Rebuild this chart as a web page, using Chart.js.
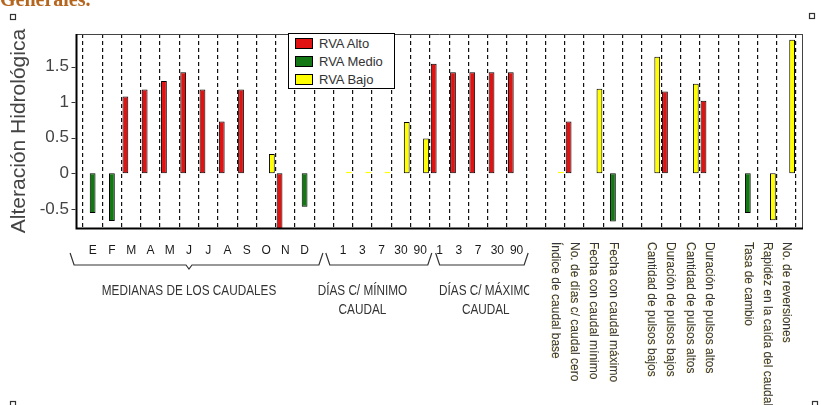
<!DOCTYPE html>
<html>
<head>
<meta charset="utf-8">
<script src="https://cdn.jsdelivr.net/npm/chart.js"></script>
<style>
    html, body { margin: 0; padding: 0; background: #fff; }
    #wrap { position: relative; width: 821px; height: 405px; overflow: hidden; }
    #leyenda {
        position: absolute; left: 288px; top: 33px; width: 105px; height: 54px;
        border: 1px solid #000; background: #fff;
        font-family: 'Liberation Sans', Arial, sans-serif; font-size: 13px; color: #333;
    }
    #leyenda .item { position: absolute; left: 6px; height: 12px; line-height: 12px; white-space: nowrap; }
    #leyenda .sw { display: inline-block; width: 18px; height: 11px; border: 1px solid #000; box-sizing: border-box; vertical-align: top; margin-right: 6px; }
</style>
</head>
<body>
<div id="wrap">
    <canvas id="grafico" width="821" height="405"></canvas>
    <div id="leyenda"></div>
</div>
<script>
// categorías del eje X ('' = separador entre grupos)
const meses = ['E', 'F', 'M', 'A', 'M', 'J', 'J', 'A', 'S', 'O', 'N', 'D'];
const diasMin = ['1', '3', '7', '30', '90'];
const diasMax = ['1', '3', '7', '30', '90'];
const otros = [
    'Índice de caudal base', 'No. de días c/ caudal cero', 'Fecha con caudal mínimo',
    'Fecha con caudal máximo', '', 'Cantidad de pulsos bajos', 'Duración de pulsos bajos',
    'Cantidad de pulsos altos', 'Duración de pulsos altos', '', 'Tasa de cambio',
    'Rapidéz en la caída del caudal', 'No. de reversiones'
];
const categorias = [...meses, '', ...diasMin, ...diasMax, '', ...otros];

// series
const series = ['RVA Alto', 'RVA Medio', 'RVA Bajo'];
const n = null;
const rvaAlto = [n, n, 1.08, 1.18, 1.30, 1.42, 1.18, 0.73, 1.18, n, -0.80, n,
    n, n, n, n, n, n, 1.54, 1.42, 1.42, 1.42, 1.42,
    n, n, 0.73, n, n, n, n, 1.15, n, 1.02, n, n, n, n];
const rvaMedio = [-0.56, -0.67, n, n, n, n, n, n, n, n, n, -0.47,
    n, n, n, n, n, n, n, n, n, n, n,
    n, n, n, n, -0.68, n, n, n, n, n, n, -0.56, n, n];
const rvaBajo = [n, n, n, n, n, n, n, n, n, 0.27, n, n,
    n, 0.02, 0.02, 0.02, 0.72, 0.49, n, n, n, n, n,
    n, 0.02, n, 1.19, n, n, 1.64, n, 1.26, n, n, n, -0.66, 1.88];

// eje Y
const yTicks = [-0.5, 0, 0.5, 1, 1.5];

// llaves y textos de grupo (en unidades de categoría)
const grupos = [
    { texto: ['MEDIANAS DE LOS CAUDALES'], desde: -1.17, hasta: 11.95, centro: 5.0, pico: true },
    { texto: ['DÍAS C/ MÍNIMO', 'CAUDAL'], desde: 12.1, hasta: 17.6, centro: 14.0, pico: false },
    { texto: ['DÍAS C/ MÁXIMO', 'CAUDAL'], desde: 17.8, hasta: 22.6, centro: 20.4, pico: false }
];

const colores = ['#e01212', '#137813', '#ffff00'];
const valores = [rvaAlto, rvaMedio, rvaBajo];
const fuente = "'Liberation Sans', Arial, sans-serif";

// leyenda
const leyenda = document.getElementById('leyenda');
series.forEach((s, i) => {
    const d = document.createElement('div');
    d.className = 'item';
    d.style.top = (4 + i * 18) + 'px';
    d.innerHTML = `<span class="sw" style="background:${colores[i]}"></span>${s}`;
    leyenda.appendChild(d);
});

function textoAngosto(c, t, x, y, escala) {
    c.save();
    c.translate(x, y);
    c.scale(escala, 1);
    c.fillText(t, 0, 0);
    c.restore();
}

const marco = {
    id: 'marco',
    afterDraw(chart) {
        const c = chart.ctx;
        const a = chart.chartArea;
        const xs = chart.scales.x;
        const ys = chart.scales.y;
        const izq = a.left - 6.5;
        const der = a.right + 6;
        const px = i => xs.getPixelForValue(i);

        c.save();
        // marco del gráfico
        c.strokeStyle = '#444';
        c.lineWidth = 1;
        c.beginPath();
        c.moveTo(izq, a.top + 0.5); c.lineTo(der, a.top + 0.5);
        c.moveTo(der + 0.5, a.top); c.lineTo(der + 0.5, a.bottom);
        c.stroke();
        c.strokeStyle = '#000';
        c.lineWidth = 2;
        c.beginPath();
        c.moveTo(izq, a.top); c.lineTo(izq, a.bottom + 1.5);
        c.moveTo(izq - 1, a.bottom + 0.5); c.lineTo(der + 1, a.bottom + 0.5);
        c.stroke();

        // marcas del eje Y
        c.lineWidth = 1;
        c.strokeStyle = '#333';
        yTicks.forEach(v => {
            const py = Math.round(ys.getPixelForValue(v)) + 0.5;
            c.beginPath(); c.moveTo(izq - 5, py); c.lineTo(izq - 1, py); c.stroke();
        });

        // etiquetas del eje X
        categorias.forEach((t, i) => {
            if (!t) return;
            if (t.length <= 2) {
                c.font = '12px ' + fuente;
                c.fillStyle = '#1a1a1a';
                c.textAlign = 'center';
                c.textBaseline = 'middle';
                c.fillText(t, px(i), 251);
            } else {
                c.save();
                c.translate(px(i), 242);
                c.rotate(Math.PI / 2);
                c.font = '12px ' + fuente;
                c.textAlign = 'left';
                c.textBaseline = 'middle';
                c.fillStyle = 'rgba(230, 205, 60, 0.45)';
                c.fillText(t, 0, 1);
                c.fillStyle = '#34343c';
                c.fillText(t, 0, 0);
                c.restore();
            }
        });

        // llaves y textos de grupo
        const base = 265, alto = 253;
        c.strokeStyle = '#333';
        c.lineWidth = 1.2;
        grupos.forEach(g => {
            const x0 = px(g.desde), x1 = px(g.hasta), xc = px(g.centro);
            c.beginPath();
            c.moveTo(x0, alto); c.lineTo(x0 + 4, base);
            if (g.pico) {
                c.lineTo(xc - 3, base); c.lineTo(xc, base + 4); c.lineTo(xc + 3, base);
            }
            c.lineTo(x1 - 4, base); c.lineTo(x1, alto);
            c.stroke();

            c.save();
            c.beginPath();
            c.rect(0, 270, x1 + 1, 60);
            c.clip();
            c.font = '14px ' + fuente;
            c.fillStyle = '#333';
            c.textAlign = 'center';
            c.textBaseline = 'middle';
            g.texto.forEach((t, k) => textoAngosto(c, t, xc, 291 + k * 19, 0.84));
            c.restore();
        });

        // restos del documento original
        c.font = "bold 20px 'Liberation Serif', serif";
        c.fillStyle = '#b5651d';
        c.textAlign = 'left';
        c.textBaseline = 'alphabetic';
        c.fillText('Generales.', 0, 6);
        c.strokeStyle = '#333';
        c.lineWidth = 1.2;
        c.strokeRect(10.5, 14.5, 5, 5);
        c.strokeRect(809.5, 13.5, 5, 5);
        c.strokeRect(10.5, 401.5, 5, 5);
        c.strokeRect(812.5, 401.5, 5, 5);
        c.restore();
    }
};

new Chart(document.getElementById('grafico').getContext('2d'), {
    type: 'bar',
    data: {
        labels: categorias,
        datasets: series.map((s, i) => ({
            label: s,
            data: valores[i],
            backgroundColor: colores[i],
            borderColor: ctx => Math.abs(ctx.raw) < 0.05 ? colores[i] : '#000',
            borderWidth: 1,
            borderSkipped: false,
            categoryPercentage: 0.9,
            barPercentage: 1
        }))
    },
    options: {
        responsive: false,
        animation: false,
        devicePixelRatio: 1,
        layout: { padding: { left: 0, top: 34, right: 25, bottom: 0 } },
        plugins: {
            legend: { display: false },
            tooltip: { enabled: false }
        },
        scales: {
            x: {
                grid: { offset: true, color: '#111', lineWidth: 1.2, drawTicks: false },
                border: { display: false, dash: [4, 3] },
                ticks: { display: false },
                afterFit: s => { s.height = 177; }
            },
            y: {
                min: -0.77,
                max: 1.96,
                afterBuildTicks: s => { s.ticks = yTicks.map(v => ({ value: v })); },
                grid: { display: false, drawTicks: false },
                border: { display: false },
                ticks: {
                    font: { family: fuente, size: 17 },
                    color: '#444',
                    padding: 14,
                    callback: v => String(v)
                },
                title: {
                    display: true,
                    text: 'Alteración Hidrológica',
                    font: { family: fuente, size: 21 },
                    color: '#444',
                    padding: { top: 7, bottom: 0 }
                },
                afterFit: s => { s.width = 83; }
            }
        }
    },
    plugins: [marco]
});
</script>
</body>
</html>
